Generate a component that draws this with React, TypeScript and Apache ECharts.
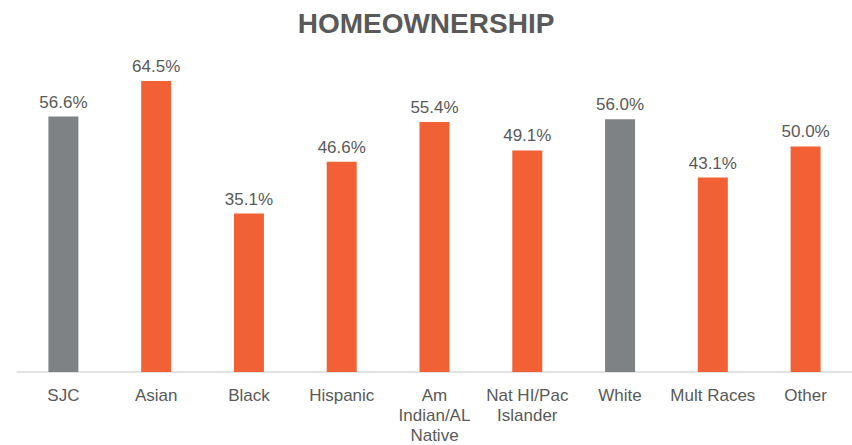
import React, { useEffect, useRef } from "react";
import * as echarts from "echarts";

const categories = ["SJC", "Asian", "Black", "Hispanic", "Am\nIndian/AL\nNative", "Nat HI/Pac\nIslander", "White", "Mult Races", "Other"];
const values = [56.6, 64.5, 35.1, 46.6, 55.4, 49.1, 56.0, 43.1, 50.0];
const isTotal = [true, false, false, false, false, false, true, false, false];

const ORANGE = "#F26135";
const GREY = "#7E8285";
const TEXT = "#595959";

export default function App() {
  const ref = useRef<HTMLDivElement>(null);
  useEffect(() => {
    document.body.style.margin = "0";
    if (!ref.current) return;
    const chart = echarts.init(ref.current, undefined, { renderer: "svg" });
    chart.setOption({
      animation: false,
      backgroundColor: "#ffffff",
      textStyle: { fontFamily: "Liberation Sans, Arial, sans-serif" },
      title: {
        text: "HOMEOWNERSHIP",
        left: "center",
        top: 4,
        textStyle: { fontSize: 28, fontWeight: "bold", color: TEXT, fontFamily: "Liberation Sans, Arial, sans-serif" },
      },
      grid: { left: 17, width: 838, top: 11, bottom: 65, containLabel: false },
      xAxis: {
        type: "category",
        data: categories,
        axisLine: { lineStyle: { color: "#D9D9D9", width: 1.5 } },
        axisTick: { show: false },
        axisLabel: { color: TEXT, fontSize: 17, margin: 13, lineHeight: 20, interval: 0 },
      },
      yAxis: {
        type: "value",
        min: 0,
        max: 80,
        show: false,
      },
      series: [
        {
          type: "bar",
          barWidth: 30,
          data: values.map((v, i) => ({ value: v, itemStyle: { color: isTotal[i] ? GREY : ORANGE } })),
          label: {
            show: true,
            position: "top",
            distance: 6,
            color: TEXT,
            fontSize: 17,
            formatter: (p: any) => p.value.toFixed(1) + "%",
          },
        },
      ],
    });
    return () => chart.dispose();
  }, []);
  return <div ref={ref} style={{ width: 852, height: 445 }} />;
}
